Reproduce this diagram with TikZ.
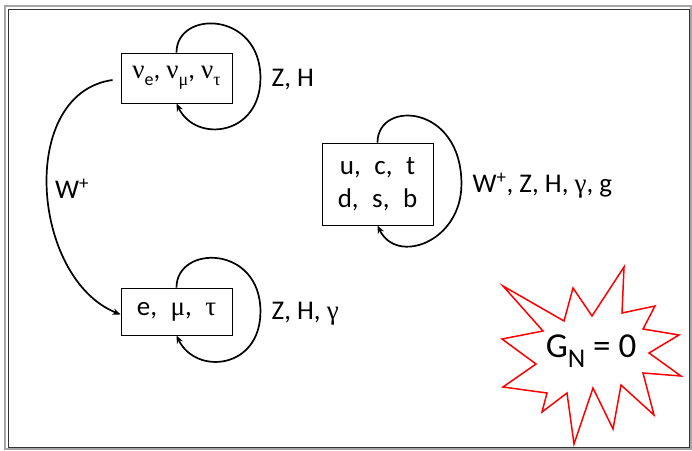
\documentclass[tikz,border=0pt]{standalone}
\usepackage{fontspec}
\setmainfont{Carlito}
\newfontfamily\grk{Liberation Serif}
\usetikzlibrary{arrows.meta,positioning}

\newcommand{\gr}[1]{{\grk #1}}
\newcommand{\lowidx}[1]{\raisebox{-0.25em}{\fontsize{18}{18}\selectfont #1}}
% loop from the top of a box round its right side back into its bottom
\newcommand{\selfloop}[3]{%
  \draw[loopline] (#1.north) .. controls +(0,43) and +(0,#2) .. ([xshift=28pt]#1.east)
    .. controls +(0,-58) and +(19,-40) .. (#1.south);
  \node[lbl,anchor=west] (#1lab) at ([xshift=39pt,yshift=-2pt]#1.east) {#3};}

\begin{document}
\begin{tikzpicture}[x=1pt,y=1pt,>={Stealth[length=8pt,width=6.5pt]},
  every node/.style={font=\fontsize{27}{33}\selectfont},
  particles/.style={draw,line width=0.9pt,minimum width=111pt,inner sep=0pt,align=center},
  loopline/.style={->,line width=1.7pt},
  lbl/.style={inner sep=0pt}]
  % frame
  \draw[gray!70,line width=1.5pt] (5,1) rectangle (691,444);
  \draw[black!80,line width=1pt] (8,2.5) rectangle (689,440.5);
  \useasboundingbox (0,0) rectangle (692,450);

  \node[particles,minimum height=50pt] (nu) at (176.5,372)
    {\gr{ν}\lowidx{e}, \gr{ν}\lowidx{\gr{μ}}, \gr{ν}\lowidx{\gr{τ}}};
  \node[particles,minimum height=47pt] (lep) at (176.5,138.5)
    {e,\enspace\gr{μ},\enspace\gr{τ}};
  \node[particles,minimum height=82pt] (qrk) at (377.5,266)
    {u,\enspace c,\enspace t\\d,\enspace s,\enspace b};

  \selfloop{nu}{67}{Z, H}
  \selfloop{lep}{67}{Z, H, \gr{γ}}
  \selfloop{qrk}{80}{W\textsuperscript{+}, Z, H, \gr{γ}, g}

  \draw[->,line width=1.7pt] ([xshift=-8pt,yshift=-2pt]nu.west)
    to[out=188,in=158,looseness=1.05]
    node[midway,right,inner sep=7pt] (wlab) {W\textsuperscript{+}}
    ([yshift=-3pt]lep.west);

  % G_N = 0 burst
  \draw[red,line width=1.5pt,line join=miter]
    (503,164) -- (564,129) -- (573,162) -- (592,134) -- (624,183)
    -- (622,137) -- (655,144) -- (643,121) -- (679,115) -- (649,97)
    -- (681,74) -- (643,77) -- (654,35) -- (621,65) -- (613,21)
    -- (593,62) -- (574,6) -- (567,57) -- (542,38) -- (547,57)
    -- (503,63) -- (536,86) -- (502,111) -- (543,119) -- cycle;
  \node[font=\fontsize{35}{35}\selectfont] (gn) at (591,99)
    {G\raisebox{-0.3em}{\fontsize{27}{27}\selectfont N} = 0};
\end{tikzpicture}
\end{document}
